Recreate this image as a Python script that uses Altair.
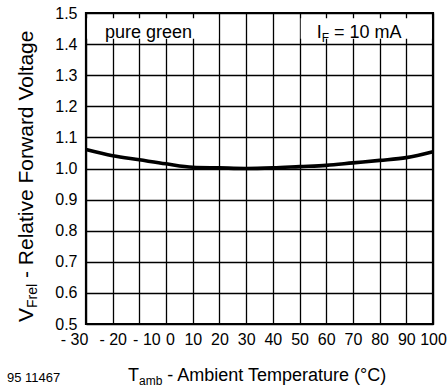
import altair as alt
import pandas as pd

# Relative forward voltage vs. ambient temperature (pure green, IF = 10 mA)
temp_c = [-30, -20, -10, 0, 10, 20, 30, 40, 50, 60, 70, 80, 90, 100]
v_frel = [1.061, 1.041, 1.028, 1.015, 1.004, 1.002, 1.000, 1.002, 1.006,
          1.010, 1.018, 1.026, 1.035, 1.054]

x_ticks = list(range(-30, 101, 10))
y_ticks = [round(0.5 + 0.1 * i, 1) for i in range(11)]

# label boxes in the top row: (x from, x to)
box_x0 = [-30, 50]
box_x1 = [20, 100]

FONT = "Liberation Sans"
W, H = 347, 311

curve = pd.DataFrame({"t": temp_c, "v": v_frel})
boxes = pd.DataFrame({"x0": [a + 0.45 for a in box_x0],
                      "x1": [b - 0.45 for b in box_x1],
                      "y0": [1.417] * 2, "y1": [1.483] * 2})

xs = alt.Scale(domain=[-30, 100], nice=False, zero=False)
ys = alt.Scale(domain=[0.5, 1.5], nice=False, zero=False)

x_axis = alt.Axis(values=x_ticks, title=None, grid=True, ticks=False, domain=False,
                  labelExpr="datum.value < 0 ? '- ' + format(-datum.value, 'd') : format(datum.value, 'd')",
                  labelOffset={"expr": "datum.value == -30 ? -12 : datum.value == -10 ? 7 : datum.value == 0 ? 4 : 0"},
                  labelPadding=7, labelFontSize=16, labelFont=FONT, labelColor="black",
                  gridColor="black", gridWidth=1.3, gridOpacity=1, labelFlush=False,
                  labelOverlap=False)
y_axis = alt.Axis(values=y_ticks, title=None, grid=True, ticks=False, domain=False,
                  format=".1f", labelPadding=9, labelFontSize=16, labelFont=FONT,
                  labelColor="black", gridColor="black", gridWidth=1.3, gridOpacity=1,
                  labelOverlap=False)

base = alt.Chart(curve)

line = base.mark_line(color="black", strokeWidth=3.6, interpolate="monotone").encode(
    x=alt.X("t:Q", scale=xs, axis=x_axis),
    y=alt.Y("v:Q", scale=ys, axis=y_axis),
)

masks = alt.Chart(boxes).mark_rect(fill="white").encode(
    x=alt.X("x0:Q", scale=xs, axis=x_axis), x2="x1:Q",
    y=alt.Y("y0:Q", scale=ys, axis=y_axis), y2="y1:Q",
)

one = pd.DataFrame({"k": [0]})


def label(text, x, y, size, angle=0, align="left"):
    return alt.Chart(one).mark_text(
        text=text, font=FONT, fontSize=size, color="black", align=align,
        baseline="alphabetic", angle=angle,
    ).encode(x=alt.value(x), y=alt.value(y))


texts = [
    # boxed annotations
    label("pure green", 19, 24.5, 18),
    label("I", 230.7, 24.5, 18),
    label("F", 235.7, 28.5, 12),
    label("= 10 mA", 248, 24.5, 18),
    # x title
    label("T", 42, 368, 18),
    label("amb", 53, 372, 12),
    label("- Ambient Temperature (°C)", 81.3, 368, 18),
    # y title
    label("V", -53, 309, 21, angle=270),
    label("Frel", -49, 295, 14, angle=270),
    label("- Relative Forward Voltage", -53, 265, 21, angle=270),
    # figure number
    label("95 11467", -79, 368.5, 13),
]

chart = alt.layer(line, masks, *texts).properties(
    width=W, height=H,
    autosize="none",
    padding={"left": 86, "top": 13, "right": 15, "bottom": 66},
).configure_view(stroke="black", strokeWidth=2.2)

chart.save("out.html", embed_options={"renderer": "svg", "actions": False})
